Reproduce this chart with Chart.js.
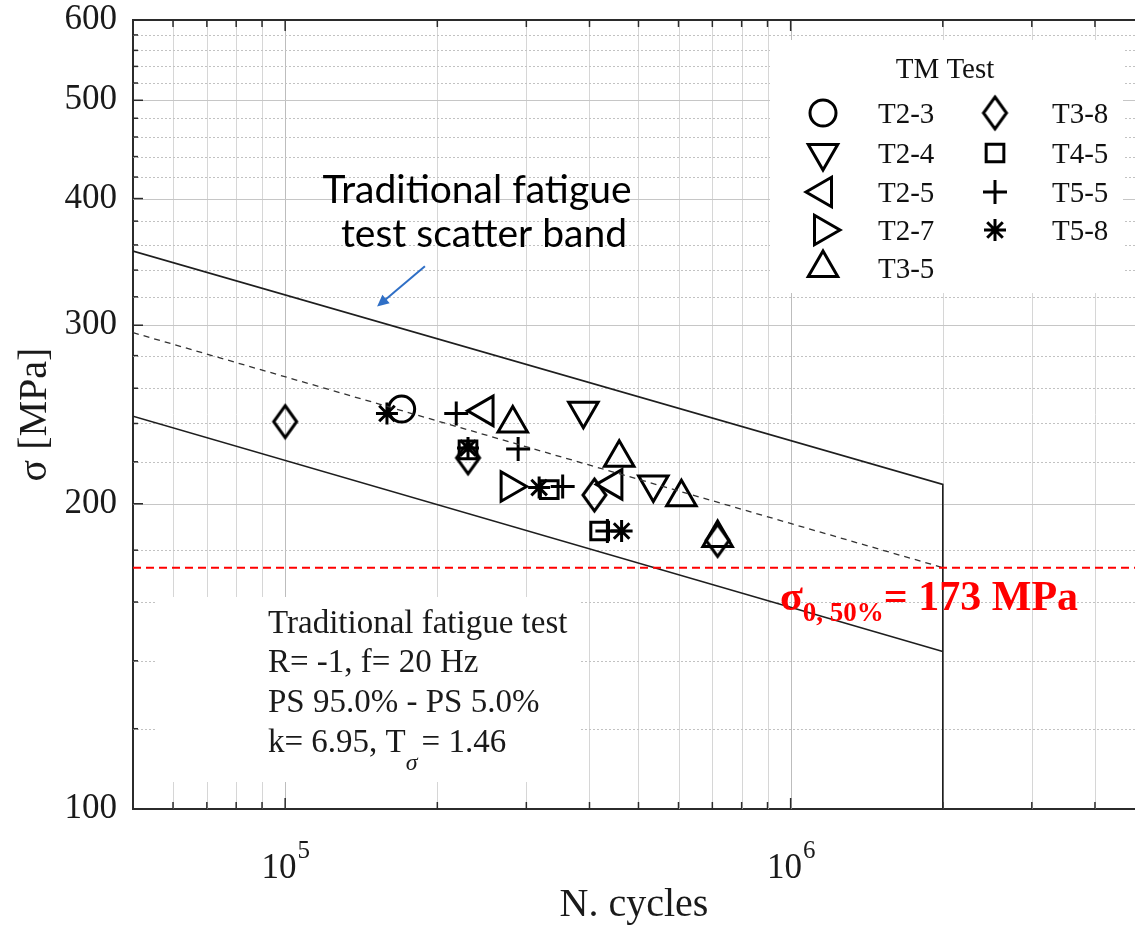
<!DOCTYPE html>
<html>
<head>
<meta charset="utf-8">
<script src="https://cdn.jsdelivr.net/npm/chart.js"></script>
<style>
  html, body { margin: 0; padding: 0; background: #fff; overflow: hidden; }
</style>
</head>
<body>
<canvas id="chart" width="1135" height="926"></canvas>
<script>
// axis ranges
const xMin = 5e4, xMax = 4.8e6;
const yMin = 100, yMax = 600;
const yTicks = [100, 200, 300, 400, 500, 600];
const xTickLabels = [1e5, 1e6];

// scatter band of the traditional fatigue tests (PS 95% / PS 50% / PS 5%)
const bandCycles = [5e4, 2e6];
const bandUpper = [355, 209];
const bandMedian = [295, 173];
const bandLower = [244, 143];
const sigma50 = 173;

// TM test results: cycles to failure and stress amplitude [MPa]
const specimens = ['T2-3', 'T2-4', 'T2-5', 'T2-7', 'T3-5', 'T3-8', 'T4-5', 'T5-5', 'T5-8'];
const cyclesT23 = [170000];
const stressT23 = [248];
const cyclesT24 = [389000, 535000];
const stressT24 = [247, 209];
const cyclesT25 = [248000, 446000];
const stressT25 = [247, 209];
const cyclesT27 = [278000];
const stressT27 = [208];
const cyclesT35 = [282000, 458000, 608000, 717000];
const stressT35 = [240, 222, 203, 185];
const cyclesT38 = [100000, 230000, 409000, 717000];
const stressT38 = [241, 222, 204, 184];
const cyclesT45 = [230000, 333000, 419000];
const stressT45 = [226, 206.5, 188];
const cyclesT55 = [218000, 289000, 354000, 434000];
const stressT55 = [245.5, 226.5, 208, 188];
const cyclesT58 = [159000, 230000, 318000, 463000];
const stressT58 = [245.5, 227, 207.5, 188];

const cycles = [cyclesT23, cyclesT24, cyclesT25, cyclesT27, cyclesT35, cyclesT38, cyclesT45, cyclesT55, cyclesT58];
const stress = [stressT23, stressT24, stressT25, stressT27, stressT35, stressT38, stressT45, stressT55, stressT58];

const serif = 'Liberation Serif';
const markerLine = 3;

// tall diamond, the built-in rectRot is too squat
function diamondMarker(w, h, lw) {
  const c = document.createElement('canvas');
  c.width = Math.ceil(w + lw * 2);
  c.height = Math.ceil(h + lw * 2);
  const g = c.getContext('2d');
  const cx = c.width / 2, cy = c.height / 2;
  g.strokeStyle = '#000';
  g.lineWidth = lw;
  g.beginPath();
  g.moveTo(cx, cy - h / 2);
  g.lineTo(cx + w / 2, cy);
  g.lineTo(cx, cy + h / 2);
  g.lineTo(cx - w / 2, cy);
  g.closePath();
  g.stroke();
  return c;
}

const markerStyles = [
  { pointStyle: 'circle', radius: 13, rotation: 0 },
  { pointStyle: 'triangle', radius: 17, rotation: 180 },
  { pointStyle: 'triangle', radius: 17, rotation: 270 },
  { pointStyle: 'triangle', radius: 17, rotation: 90 },
  { pointStyle: 'triangle', radius: 17, rotation: 0 },
  { pointStyle: diamondMarker(23, 32, markerLine), radius: 16, rotation: 0 },
  { pointStyle: 'rect', radius: 12.5, rotation: 0 },
  { pointStyle: 'cross', radius: 12, rotation: 0 },
  { pointStyle: 'star', radius: 11, rotation: 0 }
];

function lineSet(xs, ys, opts) {
  return Object.assign({
    data: xs.map((n, i) => ({ x: n, y: ys[i] })),
    showLine: true,
    pointRadius: 0,
    borderColor: '#1e1e1e',
    borderWidth: 1.6,
    fill: false
  }, opts);
}

const datasets = [
  lineSet([xMin, xMax], [sigma50, sigma50], { borderColor: '#ff0000', borderWidth: 2, borderDash: [8, 5] }),
  lineSet(bandCycles.concat([bandCycles[1]]), bandUpper.concat([yMin])),
  lineSet(bandCycles, bandMedian, { borderWidth: 1.3, borderColor: '#333', borderDash: [6, 5] }),
  lineSet(bandCycles, bandLower)
];

specimens.forEach((name, i) => {
  const s = markerStyles[i];
  datasets.push({
    label: name,
    data: cycles[i].map((n, j) => ({ x: n, y: stress[i][j] })),
    showLine: false,
    pointStyle: s.pointStyle,
    pointRadius: s.radius,
    pointRotation: s.rotation,
    pointBorderColor: '#000',
    pointBackgroundColor: 'rgba(0,0,0,0)',
    pointBorderWidth: markerLine
  });
});

// grid lines: solid at every 1..9 x 10^n and every 100 MPa, dotted every 20 MPa
const xGrid = [];
for (let e = 4; e <= 6; e++) {
  for (let m = 1; m <= 9; m++) {
    const v = m * Math.pow(10, e);
    if (v > xMin && v < xMax) xGrid.push(v);
  }
}
const yMinor = [];
for (let v = 120; v < yMax; v += 20) {
  if (v % 100) yMinor.push(v);
}

const gridPlugin = {
  id: 'logGrid',
  beforeDatasetsDraw(chart) {
    const { ctx, chartArea: a, scales: { x, y } } = chart;
    ctx.save();
    ctx.lineWidth = 1;
    xGrid.forEach(v => {
      const px = Math.round(x.getPixelForValue(v)) + 0.5;
      const decade = Math.log10(v) % 1 === 0;
      ctx.strokeStyle = decade ? '#bdbdbd' : '#d6d6d6';
      ctx.beginPath();
      ctx.moveTo(px, a.top);
      ctx.lineTo(px, a.bottom);
      ctx.stroke();
    });
    ctx.setLineDash([2, 2]);
    ctx.strokeStyle = '#c2c2c2';
    yMinor.forEach(v => {
      const py = Math.round(y.getPixelForValue(v)) + 0.5;
      ctx.beginPath();
      ctx.moveTo(a.left, py);
      ctx.lineTo(a.right, py);
      ctx.stroke();
    });
    ctx.setLineDash([]);
    ctx.strokeStyle = '#c6c6c6';
    yTicks.slice(1, -1).forEach(v => {
      const py = Math.round(y.getPixelForValue(v)) + 0.5;
      ctx.beginPath();
      ctx.moveTo(a.left, py);
      ctx.lineTo(a.right, py);
      ctx.stroke();
    });

    // white boxes behind the legend and the test description
    ctx.fillStyle = '#fff';
    ctx.fillRect(157, 597, 423, 185);
    ctx.fillRect(770, 40, 353, 253);
    ctx.restore();
  },
  afterDraw(chart) {
    const { ctx, chartArea: a, scales: { x, y } } = chart;
    ctx.save();
    // frame top edge and inward tick marks
    ctx.strokeStyle = '#2b2b2b';
    ctx.lineWidth = 2;
    ctx.beginPath();
    ctx.moveTo(a.left, a.top);
    ctx.lineTo(a.right, a.top);
    ctx.stroke();
    ctx.lineWidth = 1.5;
    xGrid.forEach(v => {
      const px = x.getPixelForValue(v);
      const len = Math.log10(v) % 1 === 0 ? 11 : 7;
      ctx.beginPath();
      ctx.moveTo(px, a.bottom);
      ctx.lineTo(px, a.bottom - len);
      ctx.moveTo(px, a.top);
      ctx.lineTo(px, a.top + len);
      ctx.stroke();
    });
    yMinor.concat(yTicks).forEach(v => {
      const py = y.getPixelForValue(v);
      const len = v % 100 === 0 ? 10 : 5;
      ctx.beginPath();
      ctx.moveTo(a.left, py);
      ctx.lineTo(a.left + len, py);
      ctx.stroke();
    });

    // decade labels with superscript exponent
    ctx.fillStyle = '#1a1a1a';
    ctx.textBaseline = 'alphabetic';
    ctx.textAlign = 'left';
    xTickLabels.forEach(v => {
      const exp = String(Math.round(Math.log10(v)));
      ctx.font = '35px "' + serif + '"';
      const w1 = ctx.measureText('10').width;
      ctx.font = '25px "' + serif + '"';
      const w2 = ctx.measureText(exp).width;
      const left = x.getPixelForValue(v) - (w1 + w2) / 2;
      ctx.font = '35px "' + serif + '"';
      ctx.fillText('10', left, a.bottom + 69);
      ctx.font = '25px "' + serif + '"';
      ctx.fillText(exp, left + w1 + 1, a.bottom + 49);
    });
    ctx.restore();
  }
};

// legend box and text annotations
const notesPlugin = {
  id: 'notes',
  afterDraw(chart) {
    const { ctx, scales: { x, y } } = chart;
    ctx.save();

    // legend
    ctx.fillStyle = '#111';
    ctx.font = '29px "' + serif + '"';
    ctx.textAlign = 'center';
    ctx.textBaseline = 'alphabetic';
    ctx.fillText('TM Test', 945, 78);
    ctx.textAlign = 'left';
    const rowsY = [113, 153, 192, 230, 268];
    specimens.forEach((name, i) => {
      const col = i < 5 ? 0 : 1;
      const row = i < 5 ? i : i - 5;
      const mx = col ? 995 : 823;
      const tx = col ? 1052 : 878;
      const s = markerStyles[i];
      ctx.save();
      ctx.strokeStyle = '#000';
      ctx.fillStyle = 'rgba(0,0,0,0)';
      ctx.lineWidth = markerLine;
      Chart.helpers.drawPoint(ctx, { pointStyle: s.pointStyle, rotation: s.rotation, radius: s.radius, borderWidth: markerLine }, mx, rowsY[row]);
      ctx.restore();
      ctx.fillText(name, tx, rowsY[row] + 10);
    });

    // test description
    ctx.font = '33px "' + serif + '"';
    ctx.fillStyle = '#1a1a1a';
    ctx.fillText('Traditional fatigue test', 268, 633);
    ctx.fillText('R= -1, f= 20 Hz', 268, 672);
    ctx.fillText('PS 95.0% - PS 5.0%', 268, 712);
    let tx = 268;
    ctx.fillText('k= 6.95, T', tx, 752);
    tx += ctx.measureText('k= 6.95, T').width;
    ctx.font = 'italic 24px "' + serif + '"';
    ctx.fillText('\u03c3', tx, 770);
    tx += ctx.measureText('\u03c3').width + 4;
    ctx.font = '33px "' + serif + '"';
    ctx.fillText('= 1.46', tx, 752);

    // fatigue limit label
    ctx.fillStyle = '#ff0000';
    tx = 780;
    ctx.font = 'bold 42px "' + serif + '"';
    ctx.fillText('\u03c3', tx, 610);
    tx += ctx.measureText('\u03c3').width;
    ctx.font = 'bold 27px "' + serif + '"';
    ctx.fillText('0, 50%', tx, 621);
    tx += ctx.measureText('0, 50%').width;
    ctx.font = 'bold 42px "' + serif + '"';
    ctx.fillText('= 173 MPa', tx, 610);

    // scatter band callout
    ctx.fillStyle = '#000';
    ctx.textAlign = 'center';
    ctx.font = '39px Lato';
    ctx.fillText('Traditional fatigue', 477, 203);
    ctx.fillText('test scatter band', 484, 247);

    const x0 = x.getPixelForValue(1.89e5), y0 = y.getPixelForValue(343);
    const x1 = x.getPixelForValue(1.52e5), y1 = y.getPixelForValue(313);
    const ang = Math.atan2(y1 - y0, x1 - x0);
    ctx.strokeStyle = '#2f6fc6';
    ctx.fillStyle = '#2f6fc6';
    ctx.lineWidth = 2;
    ctx.beginPath();
    ctx.moveTo(x0, y0);
    ctx.lineTo(x1 - Math.cos(ang) * 8, y1 - Math.sin(ang) * 8);
    ctx.stroke();
    ctx.beginPath();
    ctx.moveTo(x1, y1);
    ctx.lineTo(x1 - Math.cos(ang - 0.45) * 13, y1 - Math.sin(ang - 0.45) * 13);
    ctx.lineTo(x1 - Math.cos(ang + 0.45) * 13, y1 - Math.sin(ang + 0.45) * 13);
    ctx.closePath();
    ctx.fill();
    ctx.restore();
  }
};

new Chart(document.getElementById('chart'), {
  type: 'scatter',
  data: { datasets: datasets },
  options: {
    responsive: false,
    animation: false,
    devicePixelRatio: 1,
    layout: { autoPadding: false, padding: { top: 20, right: 0, bottom: 0, left: 0 } },
    plugins: { legend: { display: false }, tooltip: { enabled: false } },
    scales: {
      x: {
        type: 'logarithmic',
        min: xMin,
        max: xMax,
        grid: { display: false, drawTicks: false },
        border: { display: true, color: '#2b2b2b', width: 2 },
        ticks: { display: false },
        afterFit(scale) { scale.height = 117; },
        title: {
          display: true,
          text: 'N. cycles',
          color: '#1a1a1a',
          font: { family: serif, size: 40, lineHeight: 1 },
          padding: { top: 0, bottom: 1 }
        }
      },
      y: {
        type: 'logarithmic',
        min: yMin,
        max: yMax,
        grid: { display: false, drawTicks: false },
        border: { display: true, color: '#2b2b2b', width: 2 },
        afterBuildTicks(scale) { scale.ticks = yTicks.map(v => ({ value: v })); },
        afterFit(scale) {
          scale.width = 133;
          // top label may overhang the frame, like the original plot
          scale.paddingTop = 0;
          scale.paddingBottom = 0;
        },
        ticks: {
          autoSkip: false,
          padding: 16,
          color: '#1a1a1a',
          font: { family: serif, size: 35, lineHeight: 1 },
          callback: v => String(v)
        },
        title: {
          display: true,
          text: '\u03c3 [MPa]',
          color: '#1a1a1a',
          font: { family: serif, size: 40, lineHeight: 1.2 },
          padding: { top: 11, bottom: 0 }
        }
      }
    }
  },
  plugins: [gridPlugin, notesPlugin]
});
</script>
</body>
</html>
